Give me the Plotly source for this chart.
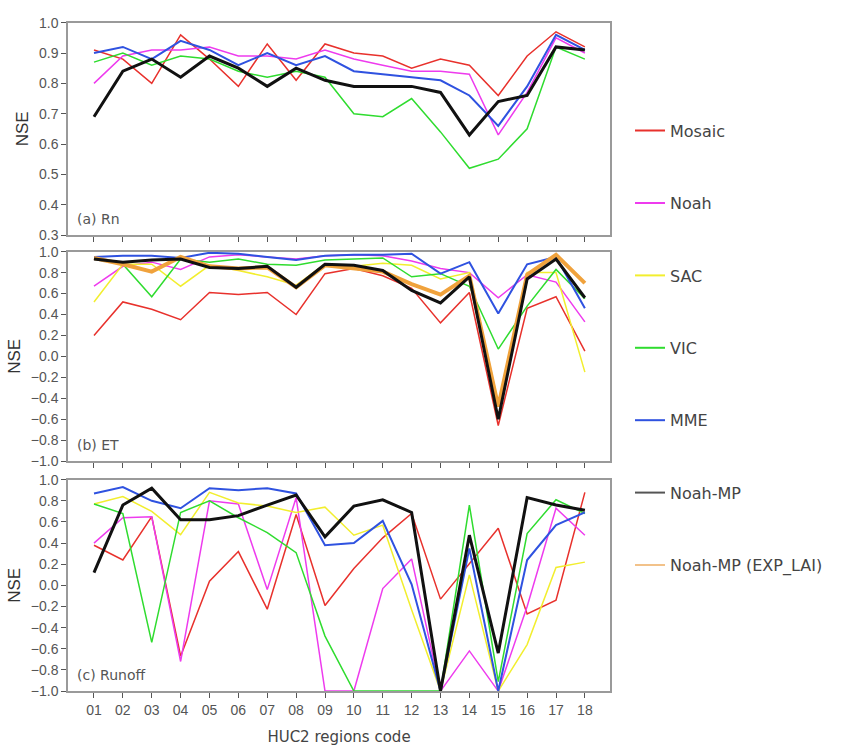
import plotly.graph_objects as go

regions = ["01","02","03","04","05","06","07","08","09","10","11","12","13","14","15","16","17","18"]
xs = list(range(1, 19))

# (a) Rn
mosaic_rn = [0.91,0.88,0.80,0.96,0.88,0.79,0.93,0.81,0.93,0.90,0.89,0.85,0.88,0.86,0.76,0.89,0.97,0.92]
noah_rn   = [0.80,0.89,0.91,0.91,0.92,0.89,0.89,0.88,0.91,0.88,0.86,0.84,0.84,0.83,0.63,0.77,0.95,0.90]
vic_rn    = [0.87,0.90,0.86,0.89,0.88,0.84,0.82,0.84,0.82,0.70,0.69,0.75,0.64,0.52,0.55,0.65,0.92,0.88]
mme_rn    = [0.90,0.92,0.88,0.94,0.91,0.86,0.90,0.86,0.89,0.84,0.83,0.82,0.81,0.76,0.66,0.79,0.96,0.91]
noahmp_rn = [0.69,0.84,0.88,0.82,0.89,0.85,0.79,0.85,0.81,0.79,0.79,0.79,0.77,0.63,0.74,0.76,0.92,0.91]

# (b) ET
mosaic_et = [0.20,0.52,0.45,0.35,0.61,0.59,0.61,0.40,0.79,0.84,0.77,0.65,0.32,0.61,-0.66,0.46,0.57,0.05]
noah_et   = [0.67,0.86,0.90,0.83,0.95,0.97,0.95,0.93,0.96,0.97,0.96,0.91,0.84,0.80,0.56,0.78,0.71,0.33]
sac_et    = [0.52,0.88,0.88,0.67,0.87,0.82,0.76,0.68,0.88,0.86,0.89,0.87,0.74,0.80,-0.45,0.80,0.80,-0.15]
vic_et    = [0.93,0.88,0.57,0.93,0.90,0.93,0.88,0.87,0.92,0.93,0.94,0.76,0.79,0.67,0.07,0.48,0.83,0.55]
mme_et    = [0.95,0.96,0.96,0.94,0.99,0.98,0.95,0.92,0.96,0.97,0.97,0.98,0.79,0.90,0.41,0.88,0.95,0.46]
noahmp_et = [0.93,0.90,0.92,0.93,0.85,0.84,0.86,0.66,0.88,0.87,0.82,0.63,0.51,0.76,-0.60,0.74,0.93,0.56]
explai_et = [0.94,0.88,0.81,0.95,0.86,0.84,0.85,0.66,0.87,0.84,0.81,0.69,0.59,0.77,-0.48,0.78,0.97,0.70]

# (c) Runoff
mosaic_q = [0.38,0.24,0.65,-0.67,0.04,0.32,-0.225,0.67,-0.19,0.16,0.45,0.68,-0.13,0.20,0.54,-0.27,-0.14,0.88]
noah_q   = [0.40,0.64,0.65,-0.72,0.80,0.77,-0.04,0.83,-1.0,-1.0,-0.03,0.25,-1.0,-0.62,-1.0,-0.20,0.73,0.475]
sac_q    = [0.77,0.84,0.70,0.48,0.88,0.78,0.75,0.69,0.74,0.475,0.57,-0.23,-1.0,0.10,-1.0,-0.56,0.17,0.22]
vic_q    = [0.77,0.68,-0.54,0.69,0.80,0.64,0.50,0.31,-0.48,-1.0,-1.0,-1.0,-1.0,0.76,-0.91,0.49,0.81,0.68]
mme_q    = [0.87,0.93,0.80,0.73,0.92,0.90,0.92,0.87,0.38,0.40,0.61,0.01,-1.0,0.35,-1.0,0.24,0.57,0.69]
noahmp_q = [0.12,0.76,0.92,0.62,0.62,0.66,0.76,0.855,0.46,0.75,0.81,0.69,-1.0,0.475,-0.64,0.83,0.76,0.71]

names = ["Mosaic","Noah","SAC","VIC","MME","Noah-MP","Noah-MP (EXP_LAI)"]
colors = {"Mosaic":"#e8312c","Noah":"#ee3bee","SAC":"#f2ee2e","VIC":"#2fdc2f",
          "MME":"#2f52e0","Noah-MP":"#111111","Noah-MP (EXP_LAI)":"#f0a23c"}
widths = {"Mosaic":1.5,"Noah":1.5,"SAC":1.5,"VIC":1.5,"MME":2,"Noah-MP":3,"Noah-MP (EXP_LAI)":4}

panels = [
    ("y3", {"Mosaic":mosaic_rn,"Noah":noah_rn,"VIC":vic_rn,"MME":mme_rn,"Noah-MP":noahmp_rn}),
    ("y2", {"Mosaic":mosaic_et,"Noah":noah_et,"SAC":sac_et,"VIC":vic_et,"MME":mme_et,
            "Noah-MP (EXP_LAI)":explai_et,"Noah-MP":noahmp_et}),
    ("y",  {"Mosaic":mosaic_q,"Noah":noah_q,"SAC":sac_q,"VIC":vic_q,"MME":mme_q,"Noah-MP":noahmp_q}),
]

fig = go.Figure()
xaxis_for = {"y3":"x3","y2":"x2","y":"x"}
for yax, series in panels:
    for nm, vals in series.items():
        fig.add_trace(go.Scatter(
            x=xs, y=vals, mode="lines", name=nm,
            line=dict(color=colors[nm], width=widths[nm]),
            xaxis=xaxis_for[yax], yaxis=yax,
            showlegend=False, hoverinfo="skip"))

# legend entries
legend_colors = dict(colors, **{"Noah-MP": "#555555", "Noah-MP (EXP_LAI)": "#f2c28a"})
for i, nm in enumerate(names):
    fig.add_trace(go.Scatter(
        x=[None], y=[None], mode="lines", name=nm,
        line=dict(color=legend_colors[nm], width=2),
        legendgroup=nm, legendrank=i+1, showlegend=True,
        xaxis="x", yaxis="y"))

W, H = 848, 748
xl, xr = 68/W, 610/W
def ydom(top, bot):
    return [1-bot/H, 1-top/H]

font = "Liberation Sans, Arial, sans-serif"
wfont = "DejaVu Sans, Liberation Sans, sans-serif"
tickfont = dict(family=font, size=14, color="#555555")
axcol = "#9a9a9a"
common_x = dict(range=[0.1, 18.87], tickmode="array", tickvals=xs, ticktext=regions,
                ticks="outside", ticklen=5, tickcolor="#555", showgrid=False,
                zeroline=False, showline=True, linecolor=axcol, linewidth=1.5,
                mirror=True, tickfont=tickfont)
common_y = dict(ticks="outside", ticklen=5, tickcolor="#555", showgrid=False,
                zeroline=False, showline=True, linecolor=axcol, linewidth=1.5,
                mirror=True, tickfont=tickfont, tickformat=".1f",
                title=dict(text="NSE", font=dict(family=font, size=17, color="#333"),
                           standoff=6))

fig.update_layout(
    width=W, height=H, margin=dict(l=0, r=0, t=0, b=0),
    paper_bgcolor="white", plot_bgcolor="white",
    font=dict(family=font),
    xaxis=dict(common_x, domain=[xl, xr], anchor="y",
               title=dict(text="HUC2 regions code", font=dict(family=wfont, size=15, color="#444"),
                          standoff=15)),
    xaxis2=dict(common_x, domain=[xl, xr], anchor="y2", showticklabels=False),
    xaxis3=dict(common_x, domain=[xl, xr], anchor="y3", showticklabels=False),
    yaxis=dict(common_y, domain=ydom(482, 698), anchor="x", range=[-1.0, 1.0], dtick=0.2, tick0=-1.0),
    yaxis2=dict(common_y, domain=ydom(249, 463), anchor="x2", range=[-1.0, 1.0], dtick=0.2, tick0=-1.0),
    yaxis3=dict(common_y, domain=ydom(15, 232), anchor="x3", range=[0.3, 1.0], dtick=0.1, tick0=0.3),
    legend=dict(x=630/W, y=1-108/H, xanchor="left", yanchor="top",
                traceorder="grouped", tracegroupgap=48.6, itemwidth=30,
                font=dict(family=wfont, size=16, color="#444"),
                bgcolor="rgba(0,0,0,0)"),
    annotations=[
        dict(text="(a) Rn", xref="x3 domain", yref="y3 domain", x=0.012, y=0.03,
             xanchor="left", yanchor="bottom", showarrow=False,
             font=dict(family=wfont, size=14, color="#555")),
        dict(text="(b) ET", xref="x2 domain", yref="y2 domain", x=0.012, y=0.03,
             xanchor="left", yanchor="bottom", showarrow=False,
             font=dict(family=wfont, size=14, color="#555")),
        dict(text="(c) Runoff", xref="x domain", yref="y domain", x=0.012, y=0.03,
             xanchor="left", yanchor="bottom", showarrow=False,
             font=dict(family=wfont, size=14, color="#555")),
    ],
)

fig.write_html("out.html")
